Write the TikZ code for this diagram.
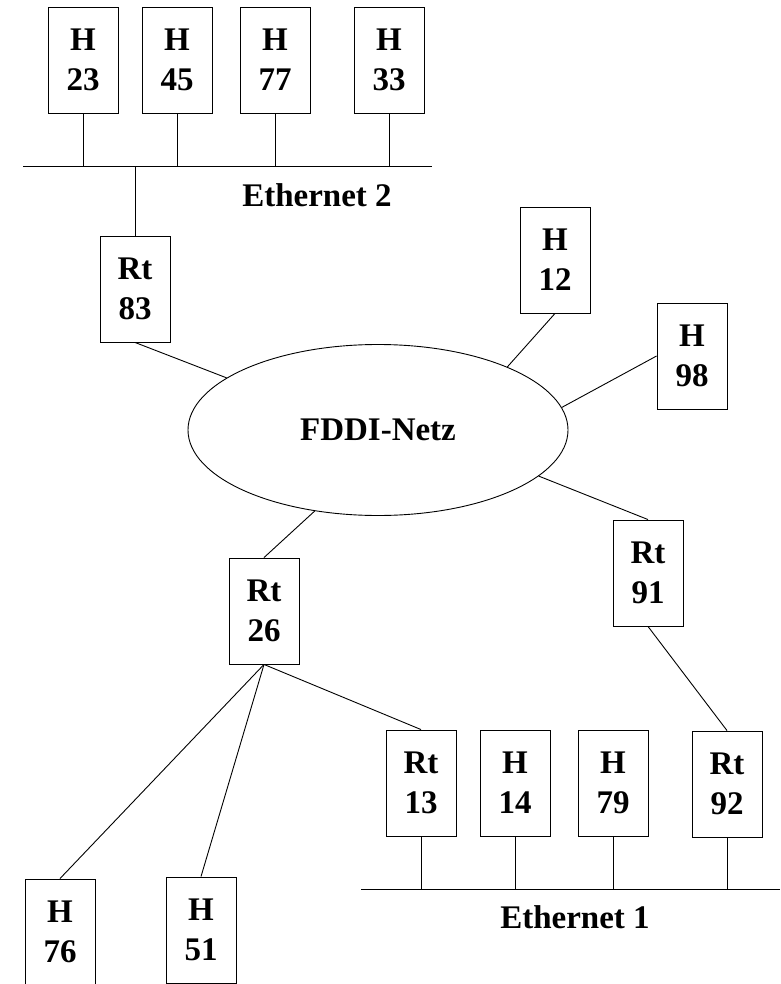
\documentclass[tikz,border=0pt]{standalone}
\usepackage{fontspec}
\setmainfont{Liberation Serif}
\usetikzlibrary{shapes.geometric}
\begin{document}
\begin{tikzpicture}[x=1pt,y=-1pt,
   line width=0.9pt,
   every node/.style={font=\fontsize{33}{40}\selectfont\bfseries},
   station/.style={draw,minimum width=70pt,minimum height=106pt,
                   inner sep=0pt,align=center},
   ring/.style={draw,ellipse,minimum width=380pt,minimum height=171pt,
                inner sep=0pt}]

\useasboundingbox (0,0) rectangle (780,984);

% Ethernet 2
\node[station] (h23) at (83,60) {H\\23};
\node[station] (h45) at (177,60) {H\\45};
\node[station] (h77) at (275,60) {H\\77};
\node[station] (h33) at (389,60) {H\\33};
\coordinate (e2a) at (23,166);
\coordinate (e2b) at (432,166);
\draw (e2a) -- (e2b);
\node (eth2) at (317,195) {Ethernet 2};
\foreach \n in {h23,h45,h77,h33}
    \draw (\n.south) -- (\n.south |- e2a);

% FDDI ring
\node[ring] (fddi) at (378,430) {FDDI-Netz};
\node[station] (rt83) at (135,289) {Rt\\83};
\node[station] (h12) at (555,260) {H\\12};
\node[station] (h98) at (692,356) {H\\98};
\node[station] (rt26) at (264,611) {Rt\\26};
\node[station] (rt91) at (648,573) {Rt\\91};
\draw (rt83.north) -- (rt83.north |- e2a);
\draw (rt83.south) -- (fddi.161);
\draw (h12.south) -- (fddi.26);
\draw (h98.west) -- (fddi.7);
\draw (rt91.north) -- (fddi.-16);
\draw (rt26.north) -- (fddi.232);

% Ethernet 1
\node[station] (rt13) at (421,783) {Rt\\13};
\node[station] (h14) at (515,783) {H\\14};
\node[station] (h79) at (613,783) {H\\79};
\node[station] (rt92) at (727,784) {Rt\\92};
\coordinate (e1a) at (361,889);
\coordinate (e1b) at (780,889);
\draw (e1a) -- (e1b);
\node (eth1) at (575,917) {Ethernet 1};
\foreach \n in {rt13,h14,h79,rt92}
    \draw (\n.south) -- (\n.south |- e1a);
\draw (rt91.south) -- (rt92.north);

% hosts behind Rt 26
\node[station] (h76) at (60,932) {H\\76};
\node[station] (h51) at (201,930) {H\\51};
\draw (rt26.south) -- (h76.north);
\draw (rt26.south) -- (h51.north);
\draw (rt26.south) -- (rt13.north);

\end{tikzpicture}
\end{document}
